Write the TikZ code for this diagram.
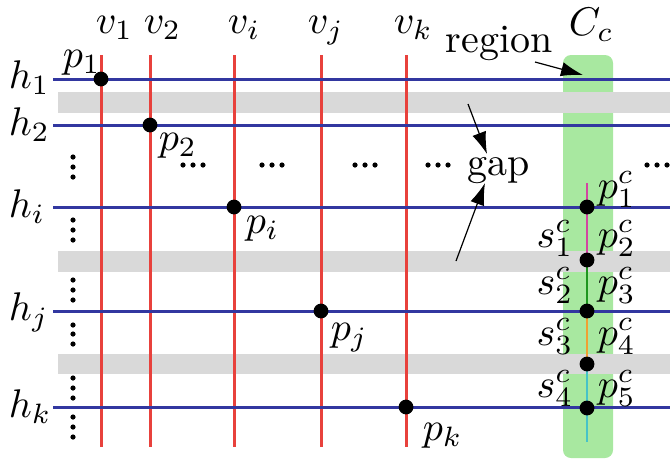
\documentclass[tikz,border=0pt]{standalone}
\usetikzlibrary{arrows.meta}
\definecolor{hblue}{RGB}{50,55,160}
\definecolor{vred}{RGB}{232,65,60}
\definecolor{gband}{RGB}{217,217,217}
\definecolor{cgreen}{RGB}{168,232,160}
\definecolor{segmag}{RGB}{210,70,160}
\definecolor{seggreen}{RGB}{30,150,30}
\definecolor{segorange}{RGB}{240,160,50}
\definecolor{segcyan}{RGB}{70,195,200}
\begin{document}
\begin{tikzpicture}[x=0.25pt,y=-0.25pt,
  hline/.style={draw=hblue, line width=0.75pt},
  vline/.style={draw=vred, line width=0.75pt},
  band/.style={fill=gband},
  seg/.style={line width=0.65pt},
  ptdot/.style={circle, fill=black, inner sep=0pt, minimum size=3.7pt},
  vdot/.style={circle, fill=black, inner sep=0pt, minimum size=1.3pt},
  lbl/.style={anchor=base west, inner sep=0pt},
  lblr/.style={anchor=base east, inner sep=0pt},
  arr/.style={-{Latex[length=5.5pt,width=3.6pt]}, line width=0.3pt}]
\useasboundingbox (0,0) rectangle (670,461);
% green region
\fill[cgreen, rounded corners=2pt] (563,55) rectangle (613,458);
% grey gap bands
\fill[band] (58,92) rectangle (670,113);
\fill[band] (58,251) rectangle (670,272);
\fill[band] (58,354) rectangle (670,374);
% vertical red lines
\foreach \x in {101,150,234,321,406} \draw[vline] (\x,55) -- (\x,447);
% horizontal blue lines
\foreach \y in {79,125,207,311,407} \draw[hline] (53,\y) -- (670,\y);
% intersection points
\node[ptdot] (p1) at (101,79) {};
\node[ptdot] (p2) at (150,125) {};
\node[ptdot] (pi) at (234,207) {};
\node[ptdot] (pj) at (321,311) {};
\node[ptdot] (pk) at (406,407) {};
% coloured segments in region
\coordinate (ctop) at (587,183);
\coordinate (cbot) at (587,442);
\coordinate (c1) at (587,207);
\coordinate (c2) at (587,260);
\coordinate (c3) at (587,311);
\coordinate (c4) at (587,364);
\coordinate (c5) at (587,408);
\draw[seg, segmag] (ctop) -- (c2);
\draw[seg, seggreen] (c2) -- (c3);
\draw[seg, segorange] (c3) -- (c4);
\draw[seg, segcyan] (c4) -- (cbot);
\foreach \c in {c1,c2,c3,c4,c5} \node[ptdot] at (\c) {};
% labels of vertical lines
\node[lbl] (lv1) at (95,33) {$v_1$};
\node[lbl] (lv2) at (143,33) {$v_2$};
\node[lbl] (lvi) at (227,33) {$v_i$};
\node[lbl] (lvj) at (307,33) {$v_j$};
\node[lbl] (lvk) at (393,33) {$v_k$};
\node[lbl] (lcc) at (568,35) {$C_c$};
% labels of horizontal lines
\node[lbl] (lh1) at (8,88) {$h_1$};
\node[lbl] (lh2) at (8,135) {$h_2$};
\node[lbl] (lhi) at (8,217) {$h_i$};
\node[lbl] (lhj) at (8,320) {$h_j$};
\node[lbl] (lhk) at (8,417) {$h_k$};
% point labels
\node[lbl] (lp1) at (62,67) {$p_1$};
\node[lbl] (lp2) at (158,150) {$p_2$};
\node[lbl] (lpi) at (245,233) {$p_i$};
\node[lbl] (lpj) at (330,340) {$p_j$};
\node[lbl] (lpk) at (422,440) {$p_k$};
% region labels
\node[lbl] (lpc1) at (597,198) {$p^c_1$};
\node[lbl] (lpc2) at (597,247) {$p^c_2$};
\node[lbl] (lpc3) at (597,294) {$p^c_3$};
\node[lbl] (lpc4) at (597,345) {$p^c_4$};
\node[lbl] (lpc5) at (597,397) {$p^c_5$};
\node[lblr] (lsc1) at (574,247) {$s^c_1$};
\node[lblr] (lsc2) at (574,294) {$s^c_2$};
\node[lblr] (lsc3) at (574,345) {$s^c_3$};
\node[lblr] (lsc4) at (574,397) {$s^c_4$};
% text labels
\node[lbl] (region) at (445,52) {region};
\node[lbl] (gap) at (467,175) {gap};
% horizontal dots
\foreach \x in {193,272,365,438,657}
  \foreach \d in {-10,0,10}
    \node[vdot] at (\x+\d,165) {};
% vertical dots
\foreach \y in {157,167,177,220,230,240,280,290,300,325,334,344,378,388,398,417,427,437}
  \node[vdot] at (73,\y) {};
% arrows
\coordinate (ra) at (535,62);
\coordinate (rb) at (583,75);
\draw[arr] (ra) -- (rb);
\coordinate (g1a) at (468,104);
\coordinate (g1b) at (487,154);
\draw[arr] (g1a) -- (g1b);
\coordinate (g2a) at (456,261);
\coordinate (g2b) at (485,183);
\draw[arr] (g2a) -- (g2b);
\end{tikzpicture}
\end{document}
